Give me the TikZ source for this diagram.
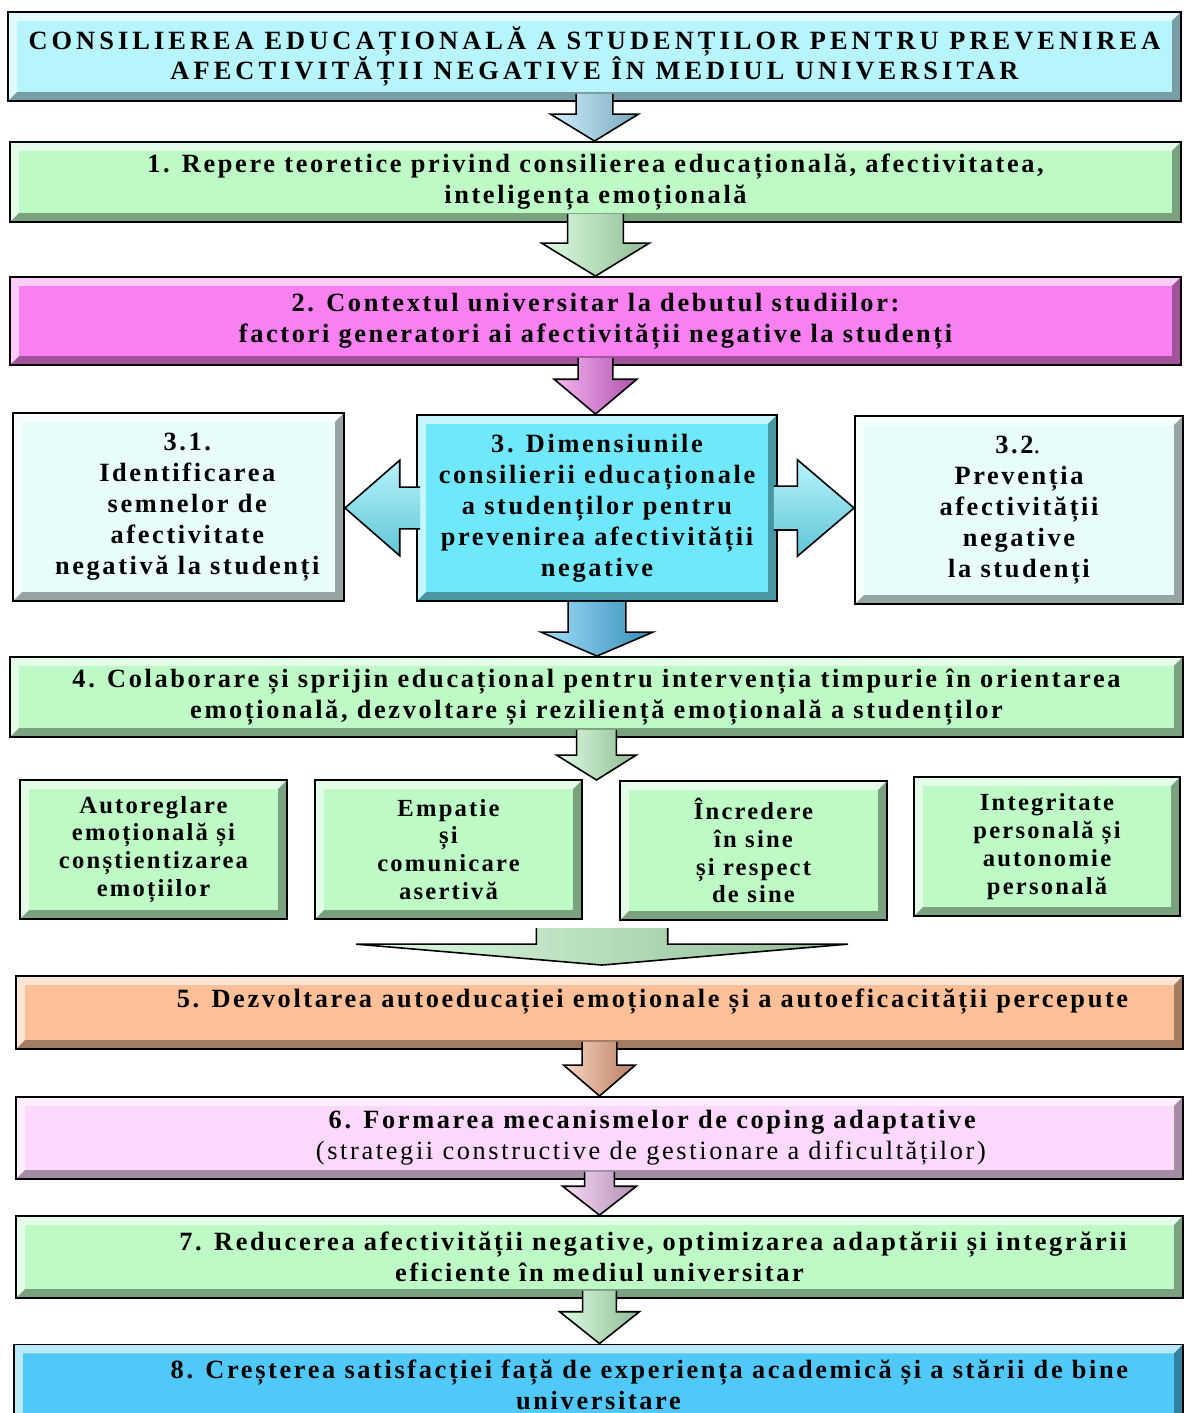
\documentclass[tikz,border=0pt]{standalone}
\usepackage{fontspec}
\setmainfont{Liberation Serif}[LetterSpace=10]
\usepackage{tikz}
\usetikzlibrary{calc,positioning}

\definecolor{titlecyan}{RGB}{184,244,252}
\definecolor{boxgreen}{RGB}{190,250,198}
\definecolor{boxmagenta}{RGB}{248,128,240}
\definecolor{boxpale}{RGB}{232,252,252}
\definecolor{boxcyan}{RGB}{112,232,252}
\definecolor{boxorange}{RGB}{252,192,152}
\definecolor{boxpink}{RGB}{252,216,252}
\definecolor{boxblue}{RGB}{80,200,248}
\definecolor{arrblue}{RGB}{160,224,250}
\definecolor{arrmagenta}{RGB}{236,110,230}
\definecolor{arrdeep}{RGB}{70,190,245}
\definecolor{arrorange}{RGB}{244,170,130}
\definecolor{arrpink}{RGB}{240,188,240}

\newcommand{\bevw}{5pt}
\tikzset{
    bevel/.style={path picture={
        \fill[white, opacity=0.6]
            (path picture bounding box.south west) -- (path picture bounding box.north west)
            -- (path picture bounding box.north east)
            -- ([shift={(-\bevw,-\bevw)}]path picture bounding box.north east)
            -- ([shift={(\bevw,-\bevw)}]path picture bounding box.north west)
            -- ([shift={(\bevw,\bevw)}]path picture bounding box.south west) -- cycle;
        \fill[black, opacity=0.35]
            (path picture bounding box.south west) -- (path picture bounding box.south east)
            -- (path picture bounding box.north east)
            -- ([shift={(-\bevw,-\bevw)}]path picture bounding box.north east)
            -- ([shift={(-\bevw,\bevw)}]path picture bounding box.south east)
            -- ([shift={(\bevw,\bevw)}]path picture bounding box.south west) -- cycle;
    }},
    shadev/.style={left color=#1!50!white, middle color=#1, right color=#1!75!black},
    shadeh/.style={top color=#1!50!white, middle color=#1, bottom color=#1!85!black}
}

\tikzstyle{box} = [
    rectangle,
    draw=black,
    line width=1.1pt,
    inner sep=0pt,
    align=center,
    bevel,
    font=\fontsize{15}{17.6}\selectfont\bfseries
]
\tikzstyle{blockarr} = [
    draw=black,
    line width=0.9pt,
    line join=miter
]

% block arrow: base, tip, half shaft, half head, head length
\newcommand{\blockarrow}[6][]{%
    \coordinate (ab) at (#2);
    \coordinate (at) at (#3);
    \coordinate (ah) at ($(at)!#6!(ab)$);
    \draw[blockarr, #1] ($(ab)!#4!90:(at)$) -- ($(ah)!#4!90:(at)$) -- ($(ah)!#5!90:(at)$)
        -- (at) -- ($(ah)!#5!-90:(at)$) -- ($(ah)!#4!-90:(at)$) -- ($(ab)!#4!-90:(at)$);
}

\begin{document}
\begin{tikzpicture}[
    x=0.02cm, y=-0.02cm,
    wide/.style={box, minimum width=23.42cm},
    side/.style={box, minimum width=6.6cm, minimum height=3.76cm},
    small/.style={box, fill=boxgreen, minimum width=5.34cm, minimum height=2.78cm,
        font=\fontsize{14}{15.9}\selectfont\bfseries\addfontfeature{LetterSpace=9}}
]
    \useasboundingbox (0,0) rectangle (1184,1413);

    % Title
    \node[wide, fill=titlecyan, minimum width=23.46cm, minimum height=1.78cm,
        font=\fontsize{15}{17}\selectfont\bfseries\addfontfeature{LetterSpace=15.5}] (title) at (594.5,56.5)
        {CONSILIEREA EDUCAȚIONALĂ A STUDENȚILOR PENTRU PREVENIREA\\AFECTIVITĂȚII NEGATIVE ÎN MEDIUL UNIVERSITAR};

    % Level 1 and 2
    \node[wide, fill=boxgreen, minimum height=1.6cm] (b1) at (595.5,182)
        {1. Repere teoretice privind consilierea educațională, afectivitatea,\\inteligența emoțională};
    \node[wide, fill=boxmagenta, minimum height=1.76cm] (b2) at (595.5,321)
        {2. Contextul universitar la debutul studiilor:\\factori generatori ai afectivității negative la studenți};

    % Level 3
    \node[side, fill=boxpale, minimum width=6.62cm] (b31) at (178.5,507)
        {\hspace*{10pt}3.1.\\\hspace*{10pt}Identificarea\\\hspace*{10pt}semnelor de\\\hspace*{10pt}afectivitate\\\hspace*{10pt}negativă la studenți};
    \node[side, fill=boxcyan, minimum width=7.2cm, minimum height=3.72cm] (b3) at (597,508)
        {3. Dimensiunile\\consilierii educaționale\\a studenților pentru\\prevenirea afectivității\\negative};
    \node[side, fill=boxpale, minimum width=6.56cm] (b32) at (1019,510)
        {3.2\textmd{.}\\Prevenția\\afectivității\\negative\\la studenți};

    % Level 4
    \node[wide, fill=boxgreen, minimum width=23.46cm, minimum height=1.6cm] (b4) at (596.5,697)
        {4. Colaborare și sprijin educațional pentru intervenția timpurie în orientarea\\emoțională, dezvoltare și reziliență emoțională a studenților};
    \node[small] (autoreg) at (153.5,849.5) {Autoreglare\\emoțională și\\conștientizarea\\emoțiilor};
    \node[small] (empatie) at (448.5,849.5) {Empatie\\și\\comunicare\\asertivă};
    \node[small] (incredere) at (753.5,850.5) {Încredere\\în sine\\și respect\\de sine};
    \node[small, minimum width=5.32cm] (integr) at (1047,846.5) {Integritate\\personală și\\autonomie\\personală};
    \coordinate (rowin) at (600,780);
    \coordinate (rowout) at (602,928);

    % Level 5 to 8
    \node[wide, fill=boxorange, minimum width=23.34cm, minimum height=1.46cm] (b5) at (599.5,1012.5) {};
    \node[font=\fontsize{15}{17.6}\selectfont\bfseries] (t5) at ($(b5)+(53,-11)$)
        {5. Dezvoltarea autoeducației emoționale și a autoeficacității percepute};
    \node[wide, fill=boxpink, minimum width=23.34cm, minimum height=1.64cm] (b6) at (599.5,1138)
        {\hspace*{60pt}6. Formarea mecanismelor de coping adaptative\\\hspace*{60pt}\textmd{(strategii constructive de gestionare a dificultăților)}};
    \node[wide, fill=boxgreen, minimum width=23.34cm, minimum height=1.64cm] (b7) at (599.5,1257)
        {\hspace*{61pt}7. Reducerea afectivității negative, optimizarea adaptării și integrării\\eficiente în mediul universitar};
    \node[wide, fill=boxblue, minimum width=23.38cm, minimum height=1.62cm] (b8) at (598.5,1385)
        {\hspace*{58pt}8. Creșterea satisfacției față de experiența academică și a stării de bine\\universitare};

    % Arrows
    \blockarrow[shadev=arrblue]{$(title.south)+(0,-8)$}{title.south |- b1.north}{10.5pt}{25pt}{15.3pt}
    \blockarrow[shadev=boxgreen]{$(b1.south)+(0,-9)$}{b1.south |- b2.north}{15.9pt}{30.6pt}{18.7pt}
    \blockarrow[shadev=arrmagenta]{$(b2.south)+(0,-8)$}{b2.south |- b3.north}{9.9pt}{23.5pt}{19.8pt}
    \blockarrow[shadeh=boxcyan]{$(b3.west)+(4,0)$}{b3.west -| b31.east}{11.9pt}{27.2pt}{31.2pt}
    \blockarrow[shadeh=boxcyan]{$(b3.east)+(-4,0)$}{b3.east -| b32.west}{12.5pt}{27.5pt}{32.3pt}
    \blockarrow[shadev=arrdeep]{b3.south}{b3.south |- b4.north}{16.4pt}{31.8pt}{13.6pt}
    \blockarrow[shadev=boxgreen]{$(b4.south)+(0,-8)$}{b4.south |- rowin}{11.3pt}{22.7pt}{14.2pt}
    \blockarrow[shadev=boxgreen]{rowout}{$(rowout |- b5.north)+(0,-10)$}{37.4pt}{140pt}{11.9pt}
    \blockarrow[shadev=arrorange]{$(b5.south)+(0,-8)$}{b5.south |- b6.north}{9.9pt}{20.4pt}{17.6pt}
    \blockarrow[shadev=arrpink]{$(b6.south)+(0,-8)$}{b6.south |- b7.north}{8.5pt}{21pt}{16.4pt}
    \blockarrow[shadev=boxgreen]{$(b7.south)+(0,-8)$}{b7.south |- b8.north}{9.6pt}{22.7pt}{18.1pt}

\end{tikzpicture}
\end{document}
